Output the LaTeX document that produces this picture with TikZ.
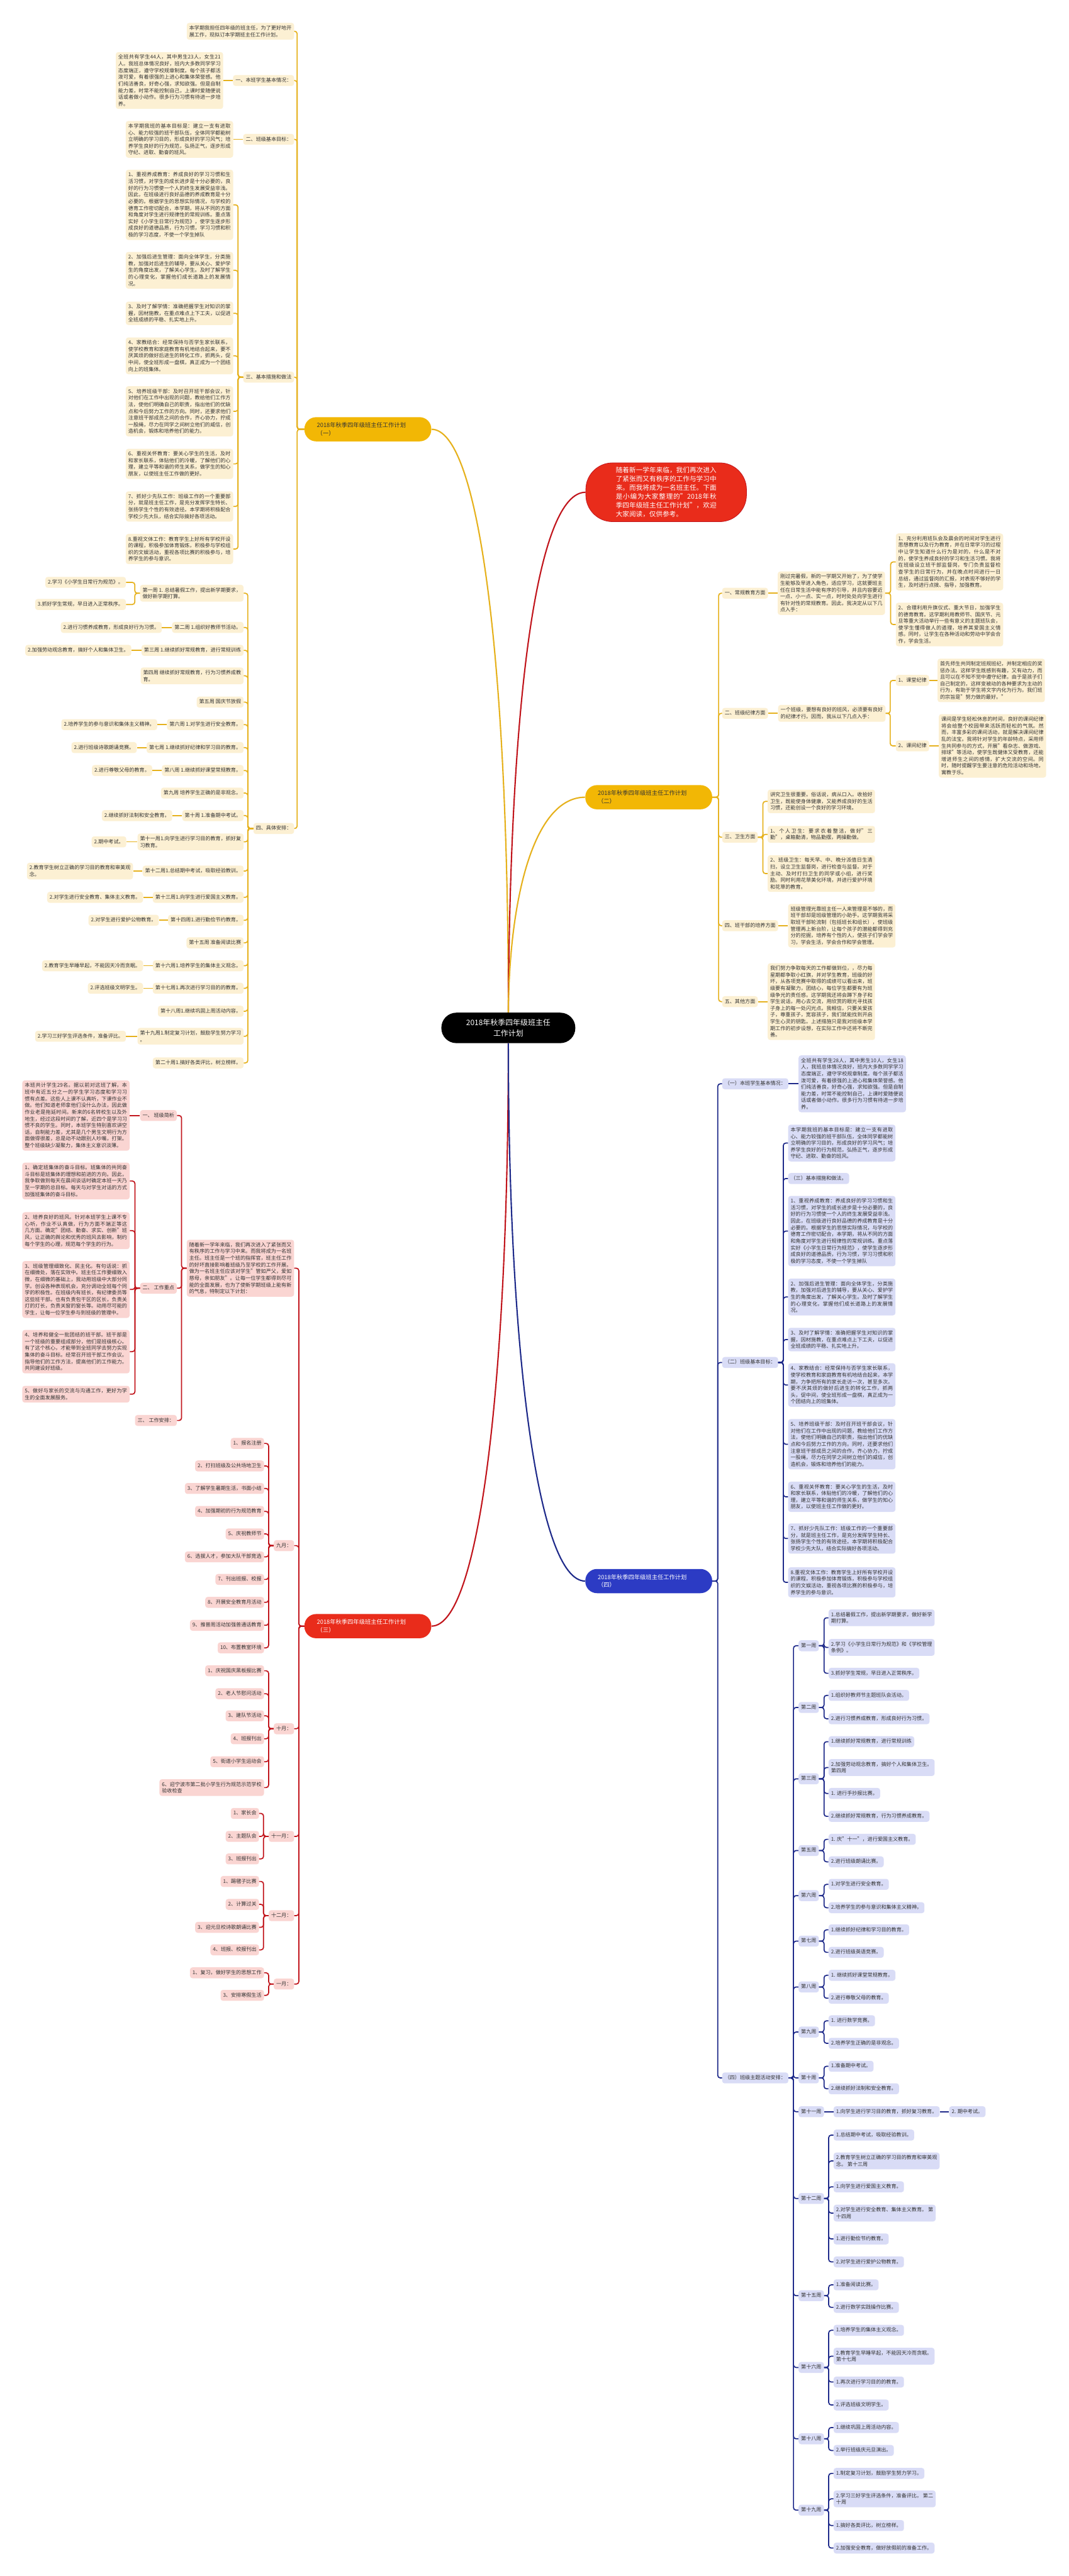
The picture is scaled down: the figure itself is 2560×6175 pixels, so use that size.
\documentclass[tikz,border=0pt]{standalone}
\usepackage{fontspec}
\setmainfont{Noto Sans CJK SC}
\XeTeXlinebreaklocale "zh"
\XeTeXlinebreakskip=0pt plus 1pt
\definecolor{tx}{HTML}{333333}
\definecolor{yM}{HTML}{F2B705}
\definecolor{yL}{HTML}{E6B11C}
\definecolor{yF}{HTML}{FCF0D3}
\definecolor{rM}{HTML}{E92C1B}
\definecolor{rL}{HTML}{C1151C}
\definecolor{rF}{HTML}{FAD5D2}
\definecolor{bM}{HTML}{2C3BC4}
\definecolor{bL}{HTML}{1E2A8A}
\definecolor{bF}{HTML}{D9DCF6}
\newcommand\fsz[2]{\fontsize{#1}{#2}\selectfont}
\newcommand\LN[5]{\node[#1,anchor=east] (#2) at (#3,#4) {#5};}
\newcommand\RN[5]{\node[#1,anchor=west] (#2) at (#3,#4) {#5};}
\newcommand\LC[4]{\draw[#1] (#2.west) -- ++(-#4,0) |- (#3.east);}
\newcommand\RC[4]{\draw[#1] (#2.east) -- ++(#4,0) |- (#3.west);}
\newcommand\LS[3]{\draw[#1] (#2.west) -- (#3.east);}
\newcommand\RS[3]{\draw[#1] (#2.east) -- (#3.west);}
\newcommand\txA{1、重视养成教育：养成良好的学习习惯和生活习惯，对学生的成长进步是十分必要的，良好的行为习惯使一个人的终生发展受益非浅。因此，在班级进行良好品德的养成教育是十分必要的。根据学生的思想实际情况，与学校的德育工作密切配合，本学期，将从不同的方面和角度对学生进行规律性的常规训练。重点落实好《小学生日常行为规范》，使学生逐步形成良好的道德品质，行为习惯，学习习惯和积极的学习态度，不使一个学生掉队}
\newcommand\txB{2、加强后进生管理：面向全体学生，分类施教，加强对后进生的辅导，要从关心、爱护学生的角度出发，了解关心学生。及时了解学生的心理变化，掌握他们成长道路上的发展情况。}
\newcommand\txC{3、及时了解学情：准确把握学生对知识的掌握，因材施教，在重点难点上下工夫，以促进全班成绩的平稳、扎实地上升。}
\newcommand\txE{5、培养班级干部：及时召开班干部会议，针对他们在工作中出现的问题，教给他们工作方法，使他们明确自己的职责，指出他们的优缺点和今后努力工作的方向。同时，还要求他们注意班干部成员之间的合作，齐心协力，拧成一股绳，尽力在同学之间树立他们的威信，创造机会，锻炼和培养他们的能力。}
\newcommand\txF{6、重视关怀教育：要关心学生的生活，及时和家长联系，体贴他们的冷暖，了解他们的心理，建立平等和谐的师生关系，做学生的知心朋友，以使班主任工作做的更好。}
\newcommand\txG{7、抓好少先队工作：班级工作的一个重要部分，就是班主任工作，是充分发挥学生特长、张扬学生个性的有效途径。本学期将积极配合学校少先大队，结合实际搞好各项活动。}
\newcommand\txH{8.重视文体工作：教育学生上好所有学校开设的课程，积极参加体育锻炼，积极参与学校组织的文娱活动，重视各项比赛的积极参与，培养学生的参与意识。}
\newcommand\txGoal{本学期我班的基本目标是：建立一支有进取心、能力较强的班干部队伍，全体同学都能树立明确的学习目的，形成良好的学习风气；培养学生良好的行为规范，弘扬正气，逐步形成守纪、进取、勤奋的班风。}
\tikzset{
 bx/.style={font=\fsz{6.1}{8},text=tx,inner xsep=3pt,inner ysep=3.2pt,rounded corners=3pt,text width=122.6pt,align=justify},
 one/.style={font=\fsz{6.1}{8},text=tx,inner xsep=3pt,inner ysep=3.4pt,rounded corners=3pt,text height=5pt,text depth=1.3pt},
 two/.style={font=\fsz{6.1}{8},text=tx,inner xsep=3pt,inner ysep=3.2pt,rounded corners=3pt,align=left},
 yb/.style={bx,fill=yF}, yo/.style={one,fill=yF}, yt/.style={two,fill=yF},
 rb/.style={bx,fill=rF}, ro/.style={one,fill=rF}, rt/.style={two,fill=rF},
 bb/.style={bx,fill=bF}, bo/.style={one,fill=bF}, bt/.style={two,fill=bF},
 mainnode/.style={font=\fsz{7}{9.6},text width=122pt,align=left,inner xsep=15pt,inner ysep=4pt,minimum height=29pt,rounded corners=14pt},
 cY/.style={draw=yL,line width=1.3pt,rounded corners=3pt},
 cR/.style={draw=rL,line width=1.3pt,rounded corners=3pt},
 cB/.style={draw=bL,line width=1.3pt,rounded corners=3pt},
 big/.style={line width=1.6pt},
}
\begin{document}
\begin{tikzpicture}[x=0.5pt,y=-0.5pt]
\fill[white] (0,0) rectangle (2560,6175);
\useasboundingbox (0,0) rectangle (2560,6175);

% ===== centre =====
\node[fill=black,text=white,font=\fsz{9}{13},align=center,minimum width=160.5pt,minimum height=36.5pt,rounded corners=18pt] (ctr) at (1218,2464) {2018年秋季四年级班主任\\工作计划};

% ===== red intro =====
\node[fill=rM,draw=rL,line width=0.6pt,text=white,font=\fsz{8}{10.5},text width=120.5pt,align=justify,inner xsep=36pt,minimum height=70.5pt,rounded corners=32pt,anchor=west] (ri) at (1403,1180) {随着新一学年来临，我们再次进入了紧张而又有秩序的工作与学习中来。而我将成为一名班主任。下面是小编为大家整理的"2018年秋季四年级班主任工作计划"，欢迎大家阅读，仅供参考。};

% ===== (一) =====
\node[mainnode,fill=yM,text=tx,anchor=west] (n1) at (729,1029) {2018年秋季四年级班主任工作计划\\（一）};
\LN{yb}{a0}{705}{75}{本学期我担任四年级的班主任，为了更好地开展工作，现拟订本学期班主任工作计划。}
\LN{yo}{a1}{705}{193}{一、本班学生基本情况：}
\LN{yb}{a1c}{535}{193}{全班共有学生44人，其中男生23人，女生21人。我班总体情况良好，班内大多数同学学习态度端正，遵守学校规章制度。每个孩子都活泼可爱，有着很强的上进心和集体荣誉感。他们纯洁善良，好奇心强，求知欲强。但是自制能力差，时常不能控制自己，上课时爱随便说话或者做小动作。很多行为习惯有待进一步培养。}
\LN{yo}{a2}{705}{334}{二、班级基本目标：}
\LN{yb}{a2c}{559}{334}{\txGoal}
\LN{yo}{a3}{705}{904}{三、基本措施和做法}
\LN{yb}{a31}{559}{491}{\txA}
\LN{yb}{a32}{559}{648}{\txB}
\LN{yb}{a33}{559}{751}{\txC}
\LN{yb}{a34}{559}{853}{4、家教结合：经常保持与否学生家长联系，使学校教育和家庭教育有机地结合起来，要不厌其烦的做好后进生的转化工作，抓两头，促中间，使全班形成一盘棋，真正成为一个团结向上的班集体。}
\LN{yb}{a35}{559}{986}{\txE}
\LN{yb}{a36}{559}{1112}{\txF}
\LN{yb}{a37}{559}{1214}{\txG}
\LN{yb}{a38}{559}{1316}{\txH}
\LN{yo}{a4}{705}{1986}{四、具体安排：}
\LN{yt}{w1}{584}{1422}{第一周 1. 总结暑假工作，提出新学期要求，\\做好新学期打算。}
\LN{yo}{w1a}{302}{1396}{2.学习《小学生日常行为规范》。}
\LN{yo}{w1b}{302}{1449}{3.抓好学生常规，早日进入正常秩序。}
\LN{yo}{w2}{584}{1504}{第二周 1.组织好教师节活动。}
\LN{yo}{w2a}{388}{1504}{2.进行习惯养成教育，形成良好行为习惯。}
\LN{yo}{w3}{584}{1559}{第三周 1.继续抓好常规教育，进行常规训练}
\LN{yo}{w3a}{315}{1559}{2.加强劳动观念教育，搞好个人和集体卫生。}
\LN{yt}{w4}{584}{1620}{第四周 继续抓好常规教育，行为习惯养成教\\育。}
\LN{yo}{w5}{584}{1683}{第五周 国庆节放假}
\LN{yo}{w6}{584}{1737}{第六周 1.对学生进行安全教育。}
\LN{yo}{w6a}{377}{1737}{2.培养学生的参与意识和集体主义精神。}
\LN{yo}{w7}{584}{1792}{第七周 1.继续抓好纪律和学习目的教育。}
\LN{yo}{w7a}{328}{1792}{2.进行班级诗歌朗诵竞赛。}
\LN{yo}{w8}{584}{1847}{第八周 1.继续抓好课堂常规教育。}
\LN{yo}{w8a}{365}{1847}{2.进行尊敬父母的教育。}
\LN{yo}{w9}{584}{1901}{第九周 培养学生正确的是非观念。}
\LN{yo}{w10}{584}{1955}{第十周 1.准备期中考试。}
\LN{yo}{w10a}{413}{1955}{2.继续抓好法制和安全教育。}
\LN{yt}{w11}{584}{2018}{第十一周1.向学生进行学习目的教育，抓好复\\习教育。}
\LN{yo}{w11a}{303}{2018}{2.期中考试。}
\LN{yo}{w12}{584}{2088}{第十二周1.总结期中考试，吸取经验教训。}
\LN{yt}{w12a}{319}{2088}{2.教育学生树立正确的学习目的教育和审美观\\念。}
\LN{yo}{w13}{584}{2151}{第十三周1.向学生进行爱国主义教育。}
\LN{yo}{w13a}{343}{2151}{2.对学生进行安全教育、集体主义教育。}
\LN{yo}{w14}{584}{2206}{第十四周1.进行勤俭节约教育。}
\LN{yo}{w14a}{381}{2206}{2.对学生进行爱护公物教育。}
\LN{yo}{w15}{584}{2260}{第十五周 准备阅读比赛}
\LN{yo}{w16}{584}{2315}{第十六周1.培养学生的集体主义观念。}
\LN{yo}{w16a}{343}{2315}{2.教育学生早睡早起，不能因天冷而贪眠。}
\LN{yo}{w17}{584}{2369}{第十七周1.再次进行学习目的的教育。}
\LN{yo}{w17a}{343}{2369}{2.评选班级文明学生。}
\LN{yo}{w18}{584}{2424}{第十八周1.继续巩固上周活动内容。}
\LN{yt}{w19}{584}{2484}{第十九周1.制定复习计划，鼓励学生努力学习\\。}
\LN{yo}{w19a}{302}{2484}{2.学习三好学生评选条件，准备评比。}
\LN{yo}{w20}{584}{2548}{第二十周1.搞好各类评比，树立榜样。}
\foreach \c in {a0,a1,a2,a3,a4} {\LC{cY}{n1}{\c}{17}}
\LS{cY}{a1}{a1c}
\LS{cY}{a2}{a2c}
\foreach \c in {a31,a32,a33,a34,a35,a36,a37,a38} {\LC{cY}{a3}{\c}{12}}
\foreach \c in {w1,w2,w3,w4,w5,w6,w7,w8,w9,w10,w11,w12,w13,w14,w15,w16,w17,w18,w19,w20} {\LC{cY}{a4}{\c}{13}}
\LC{cY}{w1}{w1a}{12}
\LC{cY}{w1}{w1b}{12}
\foreach \c in {w2,w3,w6,w7,w8,w10,w11,w12,w13,w14,w16,w17,w19} {\LS{cY}{\c}{\c a}}

% ===== (三) =====
\node[mainnode,fill=rM,text=white,anchor=west] (n3) at (729,3898) {2018年秋季四年级班主任工作计划\\（三）};
\LN{rb}{c0}{705}{3040}{随着新一学年来临，我们再次进入了紧张而又有秩序的工作与学习中来。而我将成为一名班主任。班主任是一个班的指挥官，班主任工作的好坏直接影响着班级乃至学校的工作开展。做为一名班主任应该对学生"管如严父，爱如慈母，亲如朋友"。让每一位学生都得到尽可能的全面发展，也为了使新学期班级上能有新的气息，特制定以下计划：}
\LN{ro}{c1}{424}{2674}{一、 班级简析}
\LN{rb}{c1c}{311}{2674}{本班共计学生29名。据以前对这班了解，本班中有近五分之一的学生学习态度和学习习惯有点差。这些人上课不认真听，下课作业不做。他们知道老师拿他们没什么办法，因此做作业老是拖延时间。新来的6名转校生以及外地生，经过这段时间的了解，近四个是学习习惯不良的学生。同时，本班学生特别喜欢讲空话，自制能力差，尤其是几个男生文明行为方面做得很差，总是动不动跟别人吵嘴，打架。整个班级缺少凝聚力，集体主义意识淡薄。}
\LN{ro}{c2}{424}{3088}{二、 工作重点}
\LN{rb}{c21}{311}{2831}{1、确定班集体的奋斗目标。班集体的共同奋斗目标是班集体的理想和前进的方向。因此，我争取做到每天在晨间谈话时确定本班一天乃至一学期的总目标。每天与对学生对话的方式加强班集体的奋斗目标。}
\LN{rb}{c22}{311}{2950}{2、培养良好的班风。针对本班学生上课不专心听，作业不认真做，行为方面不端正等这几方面。确定"团结、勤奋、求实、创新"班风，让正确的舆论和优秀的班风去影响，制约每个学生的心理，规范每个学生的行为。}
\LN{rb}{c23}{311}{3091}{3、班级管理细致化、民主化。有句话说：抓在细微处，落在实效中。班主任工作要细致入微，在细微的基础上，我动用班级中大部分同学。创设各种表现机会，充分调动全班每个同学的积极性。在班级内有班长，有纪律委员等这些班干部。也有负责包干区的区长，负责关灯的灯长，负责关窗的窗长等。动用尽可能的学生，让每一位学生参与到班级的管理中。}
\LN{rb}{c24}{311}{3240}{4、培养和健全一批团结的班干部。班干部是一个班级的重要组成部分，他们是班级核心。有了这个核心，才能带到全班同学去努力实现集体的奋斗目标。经常召开班干部工作会议。指导他们的工作方法，提高他们的工作能力。共同建设好班级。}
\LN{rb}{c25}{311}{3342}{5、做好与家长的交流与沟通工作，更好为学生的全面发展服务。}
\LN{ro}{c3}{424}{3405}{三、 工作安排：}
\LN{ro}{m9}{705}{3705}{九月：}
\LN{ro}{m9a}{633}{3460}{1、报名注册}
\LN{ro}{m9b}{633}{3514}{2、打扫班级及公共场地卫生}
\LN{ro}{m9c}{633}{3568}{3、了解学生暑期生活，书面小结}
\LN{ro}{m9d}{633}{3623}{4、加强期初的行为规范教育}
\LN{ro}{m9e}{633}{3677}{5、庆祝教师节}
\LN{ro}{m9f}{633}{3732}{6、选拔人才，参加大队干部竞选}
\LN{ro}{m9g}{633}{3786}{7、刊出班报、校报}
\LN{ro}{m9h}{633}{3841}{8、开展安全教育月活动}
\LN{ro}{m9i}{633}{3896}{9、推普周活动加强普通话教育}
\LN{ro}{m9j}{633}{3950}{10、布置教室环境}
\LN{ro}{m10}{705}{4144}{十月：}
\LN{ro}{m10a}{633}{4005}{1、庆祝国庆黑板报比赛}
\LN{ro}{m10b}{633}{4060}{2、老人节慰问活动}
\LN{ro}{m10c}{633}{4113}{3、建队节活动}
\LN{ro}{m10d}{633}{4168}{4、班报刊出}
\LN{ro}{m10e}{633}{4223}{5、街道小学生运动会}
\LN{rt}{m10f}{633}{4285}{6、迎宁波市第二批小学生行为规范示范学校\\验收检查}
\LN{ro}{m11}{705}{4402}{十一月：}
\LN{ro}{m11a}{621}{4347}{1、家长会}
\LN{ro}{m11b}{621}{4402}{2、主题队会}
\LN{ro}{m11c}{621}{4456}{3、班报刊出}
\LN{ro}{m12}{705}{4592}{十二月：}
\LN{ro}{m12a}{621}{4510}{1、踢毽子比赛}
\LN{ro}{m12b}{621}{4565}{2、计算过关}
\LN{ro}{m12c}{621}{4620}{3、迎元旦校诗歌朗诵比赛}
\LN{ro}{m12d}{621}{4674}{4、班报、校报刊出}
\LN{ro}{m1}{705}{4756}{一月：}
\LN{ro}{m1a}{633}{4729}{1、复习，做好学生的思想工作}
\LN{ro}{m1b}{633}{4783}{3、安排寒假生活}
\foreach \c in {c0,m9,m10,m11,m12,m1} {\LC{cR}{n3}{\c}{13}}
\foreach \c in {c1,c2,c3} {\LC{cR}{c0}{\c}{12}}
\LS{cR}{c1}{c1c}
\foreach \c in {c21,c22,c23,c24,c25} {\LC{cR}{c2}{\c}{12}}
\foreach \c in {m9a,m9b,m9c,m9d,m9e,m9f,m9g,m9h,m9i,m9j} {\LC{cR}{m9}{\c}{12}}
\foreach \c in {m10a,m10b,m10c,m10d,m10e,m10f} {\LC{cR}{m10}{\c}{12}}
\foreach \c in {m11a,m11b,m11c} {\LC{cR}{m11}{\c}{12}}
\foreach \c in {m12a,m12b,m12c,m12d} {\LC{cR}{m12}{\c}{12}}
\foreach \c in {m1a,m1b} {\LC{cR}{m1}{\c}{12}}

% ===== (二) =====
\node[mainnode,fill=yM,text=tx,anchor=west] (n2) at (1402,1911) {2018年秋季四年级班主任工作计划\\（二）};
\RN{yo}{b1}{1730}{1422}{一、常规教育方面}
\RN{yb}{b1c}{1863}{1422}{刚过完暑假，新的一学期又开始了，为了使学生能够及早进入角色，适应学习，这就要班主任在日常生活中能有序的引导，并且内容要近一点、小一点、实一点，时时处处向学生进行有针对性的常规教育。因此，我决定从以下几点入手：}
\RN{yb}{b11}{2146}{1347}{1、充分利用班队会及晨会的时间对学生进行思想教育以及行为教育，并在日常学习的过程中让学生知道什么行为是对的，什么是不对的，使学生养成良好的学习和生活习惯。我将在班级设立班干部监督岗，专门负责监督检查学生的日常行为，并在晚点时间进行一日总结，通过监督岗的汇报，对表现不够好的学生，及时进行点拨、指导，加强教育。}
\RN{yb}{b12}{2146}{1497}{2、合理利用升旗仪式、重大节日，加强学生的德育教育。这学期利用教师节、国庆节、元旦等重大活动举行一些有意义的主题班队会，使学生懂得做人的道理，培养其爱国主义情感。同时，让学生在各种活动和劳动中学会合作，学会生活。}
\RN{yo}{b2}{1730}{1710}{二、班级纪律方面}
\RN{yb}{b2c}{1864}{1710}{一个班级，要想有良好的班风，必须要有良好的纪律才行。因而，我从以下几点入手：}
\RN{yo}{b21}{2146}{1631}{1、课堂纪律}
\RN{yb}{b21c}{2246}{1631}{首先师生共同制定班规班纪，并制定相应的奖惩办法。这样学生既感到有趣，又有动力，而且可以在不知不觉中遵守纪律。由于是孩子们自己制定的，这样变被动的各种要求为主动的行为，有助于学生将文字内化为行为。我们班的宗旨是"努力做的最好。"}
\RN{yo}{b22}{2146}{1788}{2、课间纪律}
\RN{yb}{b22c}{2249}{1788}{课间是学生轻松休息的时间，良好的课间纪律将会给整个校园带来活跃而轻松的气氛。然而，丰富多彩的课间活动，就是解决课间纪律乱的法宝。我将针对学生的年龄特点，采用师生共同参与的方式，开展"看杂志、做游戏、排球"等活动，使学生既健体又受教育，还能增进师生之间的感情，扩大交流的空间。同时，随时提醒学生要注意的危险活动和场地，寓教于乐。}
\RN{yo}{b3}{1730}{2007}{三、卫生方面}
\RN{yb}{b31}{1839}{1921}{讲究卫生很重要。俗话说，病从口入。收拾好卫生，既能使身体健康，又能养成良好的生活习惯，还能创设一个良好的学习环境。}
\RN{yb}{b32}{1839}{2000}{1、个人卫生：要求衣着整洁，做好"三勤"，桌箱勤清，物品勤摆，两操勤做。}
\RN{yb}{b33}{1839}{2094}{2、班级卫生：每天早、中、晚分派值日生清扫，设立卫生监督岗，进行检查与监督。对于主动、及时打扫卫生的同学或小组，进行奖励。同时利用花草美化环境，并进行爱护环境和花草的教育。}
\RN{yo}{b4}{1730}{2219}{四、班干部的培养方面}
\RN{yb}{b4c}{1888}{2219}{班级管理光靠班主任一人来管理是不够的，而班干部却是班级管理的小助手。这学期我将采取班干部轮流制（包括班长和组长），使班级管理再上新台阶，让每个孩子的潜能都得到充分的挖掘，培养有个性的人，使孩子们学会学习，学会生活，学会合作和学会管理。}
\RN{yo}{b5}{1730}{2401}{五、其他方面}
\RN{yb}{b5c}{1839}{2401}{我们努力争取每天的工作都做到位，，尽力每星期都争取小红旗，并对学生教育，班级的好坏，从各项竞赛中取得的成绩可以看出来，班级要有凝聚力，团结心，每位学生都要有为班级争光的责任感。这学期我还将会蹲下身子和学生说话，用心去交流，用欣赏的眼光寻找孩子身上的每一处闪光点。我相信，只要关爱孩子，尊重孩子，宽容孩子，我们就能找到开启学生心灵的钥匙。上述措施只是我对班级本学期工作的初步设想，在实际工作中还将不断完善。}
\foreach \c in {b1,b2,b3,b4,b5} {\RC{cY}{n2}{\c}{15}}
\RS{cY}{b1}{b1c}
\RC{cY}{b1c}{b11}{13}
\RC{cY}{b1c}{b12}{13}
\RS{cY}{b2}{b2c}
\RC{cY}{b2c}{b21}{11}
\RC{cY}{b2c}{b22}{11}
\RS{cY}{b21}{b21c}
\RS{cY}{b22}{b22c}
\foreach \c in {b31,b32,b33} {\RC{cY}{b3}{\c}{12}}
\RS{cY}{b4}{b4c}
\RS{cY}{b5}{b5c}

% ===== (四) =====
\node[mainnode,fill=bM,text=white,anchor=west] (n4) at (1402,3790) {2018年秋季四年级班主任工作计划\\（四）};
\RN{bo}{d1}{1730}{2598}{（一）本班学生基本情况：}
\RN{bb}{d1c}{1913}{2598}{全班共有学生28人，其中男生10人，女生18人，我班总体情况良好，班内大多数同学学习态度端正，遵守学校规章制度。每个孩子都活泼可爱，有着很强的上进心和集体荣誉感。他们纯洁善良，好奇心强，求知欲强。但是自制能力差，时常不能控制自己，上课时爱随便说话或者做小动作。很多行为习惯有待进一步培养。}
\RN{bo}{d2}{1730}{3266}{（二）班级基本目标：}
\RN{bb}{d21}{1888}{2740}{\txGoal}
\RN{bo}{d22}{1888}{2825}{（三）基本措施和做法。}
\RN{bb}{d23}{1888}{2951}{\txA}
\RN{bb}{d24}{1888}{3109}{\txB}
\RN{bb}{d25}{1888}{3211}{\txC}
\RN{bb}{d26}{1888}{3320}{4、家教结合：经常保持与否学生家长联系，使学校教育和家庭教育有机地结合起来，本学期，力争把所有的家长走访一次，甚至多次。要不厌其烦的做好后进生的转化工作，抓两头，促中间，使全班形成一盘棋，真正成为一个团结向上的班集体。}
\RN{bb}{d27}{1888}{3462}{\txE}
\RN{bb}{d28}{1888}{3588}{\txF}
\RN{bb}{d29}{1888}{3688}{\txG}
\RN{bb}{d30}{1888}{3793}{\txH}
\RN{bo}{d3}{1730}{4981}{（四）班级主题活动安排：}
\RN{bo}{e1}{1913}{3945}{第一周}
\RN{bt}{e1a}{1985}{3878}{1.总结暑假工作，提出新学期要求，做好新学\\期打算。}
\RN{bt}{e1b}{1985}{3949}{2.学习《小学生日常行为规范》和《学校管理\\条例》。}
\RN{bo}{e1c}{1985}{4011}{3.抓好学生常规，早日进入正常秩序。}
\RN{bo}{e2}{1913}{4093}{第二周}
\RN{bo}{e2a}{1985}{4064}{1.组织好教师节主题班队会活动。}
\RN{bo}{e2b}{1985}{4120}{2.进行习惯养成教育，形成良好行为习惯。}
\RN{bo}{e3}{1913}{4264}{第三周}
\RN{bo}{e3a}{1985}{4175}{1.继续抓好常规教育，进行常规训练}
\RN{bt}{e3b}{1985}{4237}{2.加强劳动观念教育，搞好个人和集体卫生。\\ 第四周}
\RN{bo}{e3c}{1985}{4299}{1. 进行手抄报比赛。}
\RN{bo}{e3d}{1985}{4354}{2.继续抓好常规教育，行为习惯养成教育。}
\RN{bo}{e5}{1913}{4436}{第五周}
\RN{bo}{e5a}{1985}{4409}{1. 庆"十一"，进行爱国主义教育。}
\RN{bo}{e5b}{1985}{4463}{2.进行班级朗诵比赛。}
\RN{bo}{e6}{1913}{4544}{第六周}
\RN{bo}{e6a}{1985}{4517}{1.对学生进行安全教育。}
\RN{bo}{e6b}{1985}{4573}{2.培养学生的参与意识和集体主义精神。}
\RN{bo}{e7}{1913}{4653}{第七周}
\RN{bo}{e7a}{1985}{4626}{1.继续抓好纪律和学习目的教育。}
\RN{bo}{e7b}{1985}{4680}{2.进行班级英语竞赛。}
\RN{bo}{e8}{1913}{4763}{第八周}
\RN{bo}{e8a}{1985}{4735}{1. 继续抓好课堂常规教育。}
\RN{bo}{e8b}{1985}{4790}{2.进行尊敬父母的教育。}
\RN{bo}{e9}{1913}{4871}{第九周}
\RN{bo}{e9a}{1985}{4844}{1. 进行数学竞赛。}
\RN{bo}{e9b}{1985}{4898}{2.培养学生正确的是非观念。}
\RN{bo}{e10}{1913}{4981}{第十周}
\RN{bo}{e10a}{1985}{4953}{1.准备期中考试。}
\RN{bo}{e10b}{1985}{5007}{2.继续抓好法制和安全教育。}
\RN{bo}{e11}{1913}{5062}{第十一周}
\RN{bo}{e11a}{1997}{5062}{1.向学生进行学习目的教育，抓好复习教育。}
\RN{bo}{e11b}{2274}{5062}{2. 期中考试。}
\RN{bo}{e12}{1913}{5270}{第十二周}
\RN{bo}{e12a}{1997}{5118}{1.总结期中考试，吸取经验教训。}
\RN{bt}{e12b}{1997}{5180}{2.教育学生树立正确的学习目的教育和审美观\\念。 第十三周}
\RN{bo}{e12c}{1997}{5242}{1.向学生进行爱国主义教育。}
\RN{bt}{e12d}{1997}{5305}{2.对学生进行安全教育、集体主义教育。 第\\十四周}
\RN{bo}{e12e}{1997}{5367}{1.进行勤俭节约教育。}
\RN{bo}{e12f}{1997}{5422}{2.对学生进行爱护公物教育。}
\RN{bo}{e15}{1913}{5503}{第十五周}
\RN{bo}{e15a}{1997}{5477}{1.准备阅读比赛。}
\RN{bo}{e15b}{1997}{5531}{2.进行数学实践操作比赛。}
\RN{bo}{e16}{1913}{5675}{第十六周}
\RN{bo}{e16a}{1997}{5586}{1.培养学生的集体主义观念。}
\RN{bt}{e16b}{1997}{5648}{2.教育学生早睡早起，不能因天冷而贪眠。\\第十七周}
\RN{bo}{e16c}{1997}{5710}{1.再次进行学习目的的教育。}
\RN{bo}{e16d}{1997}{5765}{2.评选班级文明学生。}
\RN{bo}{e18}{1913}{5846}{第十八周}
\RN{bo}{e18a}{1997}{5819}{1.继续巩固上周活动内容。}
\RN{bo}{e18b}{1997}{5874}{2.举行班级庆元旦演出。}
\RN{bo}{e19}{1913}{6017}{第十九周}
\RN{bo}{e19a}{1997}{5929}{1.制定复习计划，鼓励学生努力学习。}
\RN{bt}{e19b}{1997}{5990}{2.学习三好学生评选条件，准备评比。 第二\\十周}
\RN{bo}{e19c}{1997}{6054}{1.搞好各类评比，树立榜样。}
\RN{bo}{e19d}{1997}{6108}{2.加强安全教育，做好放假前的准备工作。}
\foreach \c in {d1,d2,d3} {\RC{cB}{n4}{\c}{13}}
\RS{cB}{d1}{d1c}
\foreach \c in {d21,d22,d23,d24,d25,d26,d27,d28,d29,d30} {\RC{cB}{d2}{\c}{12}}
\foreach \c in {e1,e2,e3,e5,e6,e7,e8,e9,e10,e11,e12,e15,e16,e18,e19} {\RC{cB}{d3}{\c}{12}}
\foreach \c in {e1a,e1b,e1c} {\RC{cB}{e1}{\c}{12}}
\foreach \c in {e2a,e2b} {\RC{cB}{e2}{\c}{12}}
\foreach \c in {e3a,e3b,e3c,e3d} {\RC{cB}{e3}{\c}{12}}
\foreach \p in {e5,e6,e7,e8,e9,e10} {\RC{cB}{\p}{\p a}{12}\RC{cB}{\p}{\p b}{12}}
\RS{cB}{e11}{e11a}
\RS{cB}{e11a}{e11b}
\foreach \c in {e12a,e12b,e12c,e12d,e12e,e12f} {\RC{cB}{e12}{\c}{11}}
\foreach \c in {e15a,e15b} {\RC{cB}{e15}{\c}{11}}
\foreach \c in {e16a,e16b,e16c,e16d} {\RC{cB}{e16}{\c}{11}}
\foreach \c in {e18a,e18b} {\RC{cB}{e18}{\c}{11}}
\foreach \c in {e19a,e19b,e19c,e19d} {\RC{cB}{e19}{\c}{11}}

% ===== main curves =====
\draw[yL,big] (ctr.north) .. controls (1218,1600) and (1150,1029) .. (n1.east);
\draw[rL,big] (ctr.north) .. controls (1222,1650) and (1290,1180) .. (ri.west);
\draw[yL,big] (ctr.north) .. controls (1220,2150) and (1280,1911) .. (n2.west);
\draw[rL,big] (ctr.south) .. controls (1218,3300) and (1150,3898) .. (n3.east);
\draw[bL,big] (ctr.south) .. controls (1218,3250) and (1290,3790) .. (n4.west);
\end{tikzpicture}
\end{document}
